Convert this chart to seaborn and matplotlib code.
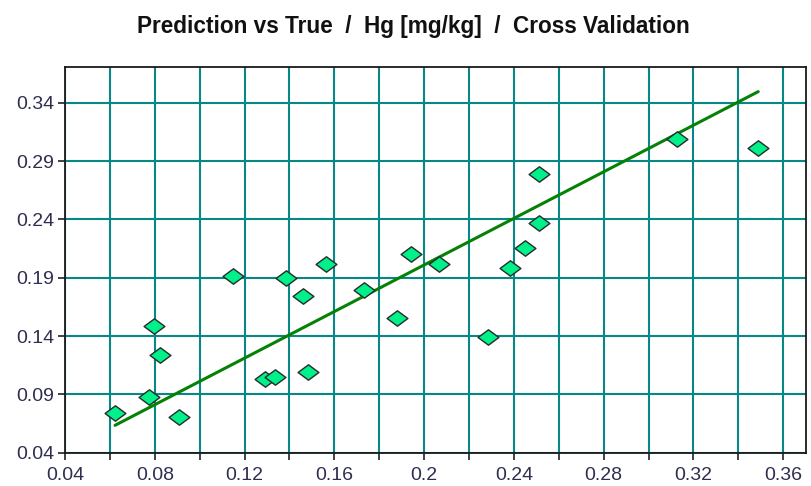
import numpy as np
import pandas as pd
import matplotlib
matplotlib.use("Agg")
import matplotlib.pyplot as plt
from matplotlib.path import Path
from matplotlib.markers import MarkerStyle
import seaborn as sns

# Measured (true) vs cross-validated predicted Hg concentration, mg/kg
true_hg = [0.0623, 0.0776, 0.0796, 0.0823, 0.0908, 0.1150, 0.1291, 0.1336,
           0.1385, 0.1459, 0.1484, 0.1561, 0.1732, 0.1880, 0.1941, 0.2066,
           0.2283, 0.2382, 0.2451, 0.2512, 0.2512, 0.3125, 0.3489]
pred_hg = [0.0743, 0.0880, 0.1489, 0.1237, 0.0709, 0.1915, 0.1032, 0.1051,
           0.1900, 0.1743, 0.1089, 0.2017, 0.1795, 0.1552, 0.2100, 0.2017,
           0.1394, 0.1980, 0.2157, 0.2366, 0.2789, 0.3089, 0.3014]

# Regression line of prediction on true value
fit_slope = 0.998
fit_intercept = 0.0013

x_ticks = [0.04, 0.08, 0.12, 0.16, 0.2, 0.24, 0.28, 0.32, 0.36]
x_tick_labels = ["0.04", "0.08", "0.12", "0.16", "0.2", "0.24", "0.28", "0.32", "0.36"]
x_minor = [0.06, 0.10, 0.14, 0.18, 0.22, 0.26, 0.30, 0.34]
y_ticks = [0.04, 0.09, 0.14, 0.19, 0.24, 0.29, 0.34]
y_tick_labels = ["0.04", "0.09", "0.14", "0.19", "0.24", "0.29", "0.34"]

title = "Prediction vs True  /  Hg [mg/kg]  /  Cross Validation"

df = pd.DataFrame({"true": true_hg, "pred": pred_hg})
line_x = np.array([min(true_hg), max(true_hg)])
line_df = pd.DataFrame({"true": line_x, "pred": fit_slope * line_x + fit_intercept})

sns.set_style("white")
plt.rcParams["font.family"] = ["Liberation Sans", "DejaVu Sans"]

fig = plt.figure(figsize=(8.11, 4.86), dpi=100)
ax = fig.add_axes([65 / 811, 1 - 452.7 / 486, (805.6 - 65) / 811, (452.7 - 67) / 486])

grid_color = "#078787"
ax.set_xlim(0.04, 0.37)
ax.set_ylim(0.04, 0.3706)
ax.set_xticks(x_ticks)
ax.set_xticklabels(x_tick_labels)
ax.set_xticks(x_minor, minor=True)
ax.set_yticks(y_ticks)
ax.set_yticklabels(y_tick_labels)
ax.grid(True, which="both", axis="x", color=grid_color, linewidth=1.5)
ax.grid(True, which="major", axis="y", color=grid_color, linewidth=1.5)
ax.set_axisbelow(True)

# wide diamond marker
diamond = Path([(-1.0, 0.0), (0.0, 0.74), (1.0, 0.0), (0.0, -0.74), (-1.0, 0.0)],
               [Path.MOVETO, Path.LINETO, Path.LINETO, Path.LINETO, Path.CLOSEPOLY])

sns.lineplot(data=line_df, x="true", y="pred", ax=ax, color="#058205",
             linewidth=2.2, zorder=3)
sns.scatterplot(data=df, x="true", y="pred", ax=ax, marker=MarkerStyle(diamond),
                s=225, color="#00f08a", edgecolor="#2a2a2a", linewidth=1.0,
                zorder=4)

ax.set_xlabel("")
ax.set_ylabel("")
for side in ["left", "right", "top", "bottom"]:
    ax.spines[side].set_visible(True)
    ax.spines[side].set_color("#1a1a1a")
    ax.spines[side].set_linewidth(1.3)

label_color = "#2e2e50"
ax.tick_params(axis="both", which="both", direction="out", colors="#333333",
               labelcolor=label_color, labelsize=14)
ax.tick_params(axis="x", which="both", length=5, width=1.3, pad=5)
ax.tick_params(axis="y", which="major", length=5, width=1.3, pad=3)
ax.tick_params(left=True, bottom=True)
ax.tick_params(axis="x", which="minor", bottom=True)

fig.text(413 / 811, 1 - 33.3 / 486, title, ha="center", va="baseline",
         fontsize=16.3, fontweight="bold", color="#111111",
         family=["Liberation Sans", "DejaVu Sans"])

fig.savefig("out.png", dpi=100, facecolor="white")
